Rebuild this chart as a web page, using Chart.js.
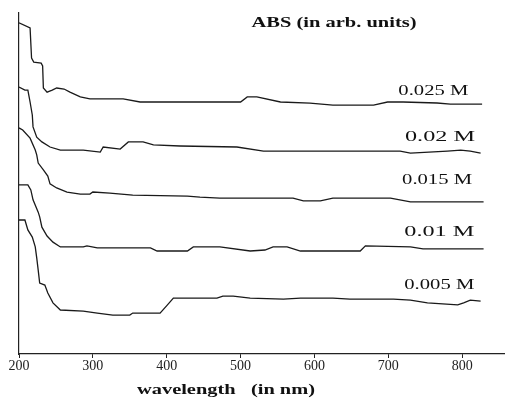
<!DOCTYPE html>
<html>
<head>
<meta charset="utf-8">
<script src="https://cdn.jsdelivr.net/npm/chart.js@4"></script>
<style>
  html, body { margin: 0; padding: 0; background: #fff; }
  #wrap { width: 505px; height: 400px; }
</style>
</head>
<body>
<div id="wrap"><canvas id="c" width="505" height="400"></canvas></div>
<script>
// wavelength (nm) / absorbance (arb. units, 0-100) for each concentration
const wl025 = [200,215,217,220,230,232,233,238,245,251,261,269,283,296,341,364,500,509,522,554,594,625,680,699,720,766,784,827];
const abs025 = [97.1,95.6,86.8,85.6,85.3,84.5,78.0,76.8,77.4,78.0,77.7,76.8,75.4,74.8,74.8,73.9,73.9,75.4,75.4,73.9,73.6,73.0,73.0,73.9,73.9,73.6,73.3,73.3];

const wl020 = [200,208,212,215,218,219,224,231,242,256,287,310,314,337,348,368,382,418,495,531,608,716,730,780,798,811,825];
const abs020 = [78.3,77.4,77.4,73.9,70.1,66.6,63.6,62.2,60.7,59.8,59.8,59.2,60.7,60.1,62.2,62.2,61.3,61.0,60.7,59.5,59.5,59.5,58.9,59.5,59.8,59.5,58.9];

const wl015 = [200,205,215,222,224,226,233,239,242,251,265,283,296,300,323,354,428,445,472,571,585,608,625,703,730,829];
const abs015 = [66.3,65.7,63.3,59.8,58.4,56.0,54.0,52.2,49.9,48.7,47.5,46.9,46.9,47.5,47.2,46.6,46.3,46.0,45.7,45.7,44.9,44.9,45.7,45.7,44.6,44.6];

const wl010 = [200,212,216,219,226,228,231,238,246,256,287,292,306,378,387,428,436,472,513,533,544,563,581,662,669,730,747,829];
const abs010 = [49.6,49.6,48.1,45.2,41.6,40.2,37.2,34.6,32.8,31.4,31.4,31.7,31.1,31.1,30.2,30.2,31.4,31.4,30.2,30.5,31.4,31.4,30.2,30.2,31.7,31.4,30.8,30.8];

const wl005 = [200,208,212,218,222,224,226,228,235,239,246,256,287,306,327,350,354,391,401,409,468,476,490,513,558,581,625,648,707,730,753,794,802,811,825];
const abs005 = [39.3,39.3,36.4,34.3,31.4,28.2,24.6,20.8,20.2,17.9,15.0,12.9,12.6,12.0,11.4,11.4,12.0,12.0,14.4,16.4,16.4,17.0,17.0,16.4,16.1,16.4,16.4,16.1,16.1,15.8,15.0,14.4,15.0,15.8,15.5];

const seriesNames = ['0.025 M', '0.02 M', '0.015 M', '0.01 M', '0.005 M'];
const labelWl = [761, 770, 766, 769, 769];
const labelAbs = [77.2, 63.6, 51.0, 35.8, 20.2];
const xTicks = [200, 300, 400, 500, 600, 700, 800];

const toPoints = (xs, ys) => xs.map((x, i) => ({ x: x, y: ys[i] }));

const allSeries = [
    toPoints(wl025, abs025),
    toPoints(wl020, abs020),
    toPoints(wl015, abs015),
    toPoints(wl010, abs010),
    toPoints(wl005, abs005)
];

// draws a string squeezed/stretched to a given width
function wideText(ctx, str, font, cx, cy, w) {
    ctx.save();
    ctx.font = font;
    const natural = ctx.measureText(str).width;
    ctx.translate(cx, cy);
    ctx.scale(w / natural, 1);
    ctx.textAlign = 'center';
    ctx.textBaseline = 'middle';
    ctx.fillText(str, 0, 0);
    ctx.restore();
}

const textPlugin = {
    id: 'textPlugin',
    afterDraw(chart) {
        const ctx = chart.ctx;
        const xs = chart.scales.x, ys = chart.scales.y;
        ctx.fillStyle = '#111';
        seriesNames.forEach((name, i) => {
            wideText(ctx, name, '15px "Liberation Serif"',
                xs.getPixelForValue(labelWl[i]), ys.getPixelForValue(labelAbs[i]), 70);
        });
        wideText(ctx, 'ABS (in arb. units)', 'bold 14px "Liberation Serif"', 334, 23, 165);
        wideText(ctx, 'wavelength   (in nm)', 'bold 14px "Liberation Serif"', 226, 390, 178);
    }
};

new Chart(document.getElementById('c'), {
    type: 'line',
    data: {
        datasets: allSeries.map((pts, i) => ({
            label: seriesNames[i],
            data: pts,
            borderColor: '#1a1a1a',
            borderWidth: 1.3,
            pointRadius: 0,
            tension: 0,
            fill: false
        }))
    },
    options: {
        responsive: false,
        animation: false,
        layout: { padding: { top: 13, right: 0, bottom: 0, left: 0 } },
        plugins: {
            legend: { display: false },
            tooltip: { enabled: false }
        },
        scales: {
            x: {
                type: 'linear',
                min: 200,
                max: 858,
                afterBuildTicks: s => { s.ticks = xTicks.map(v => ({ value: v })); },
                afterFit: s => { s.height = 46; },
                ticks: {
                    font: { family: 'Liberation Serif', size: 14 },
                    color: '#222',
                    maxRotation: 0,
                    padding: 0
                },
                grid: { drawOnChartArea: false, tickLength: 4, color: '#222' },
                border: { color: '#222', width: 1.2 }
            },
            y: {
                min: 0,
                max: 100,
                afterFit: s => { s.width = 19; },
                ticks: { display: false },
                grid: { display: false },
                border: { color: '#222', width: 1.2 }
            }
        }
    },
    plugins: [textPlugin]
});
</script>
</body>
</html>
